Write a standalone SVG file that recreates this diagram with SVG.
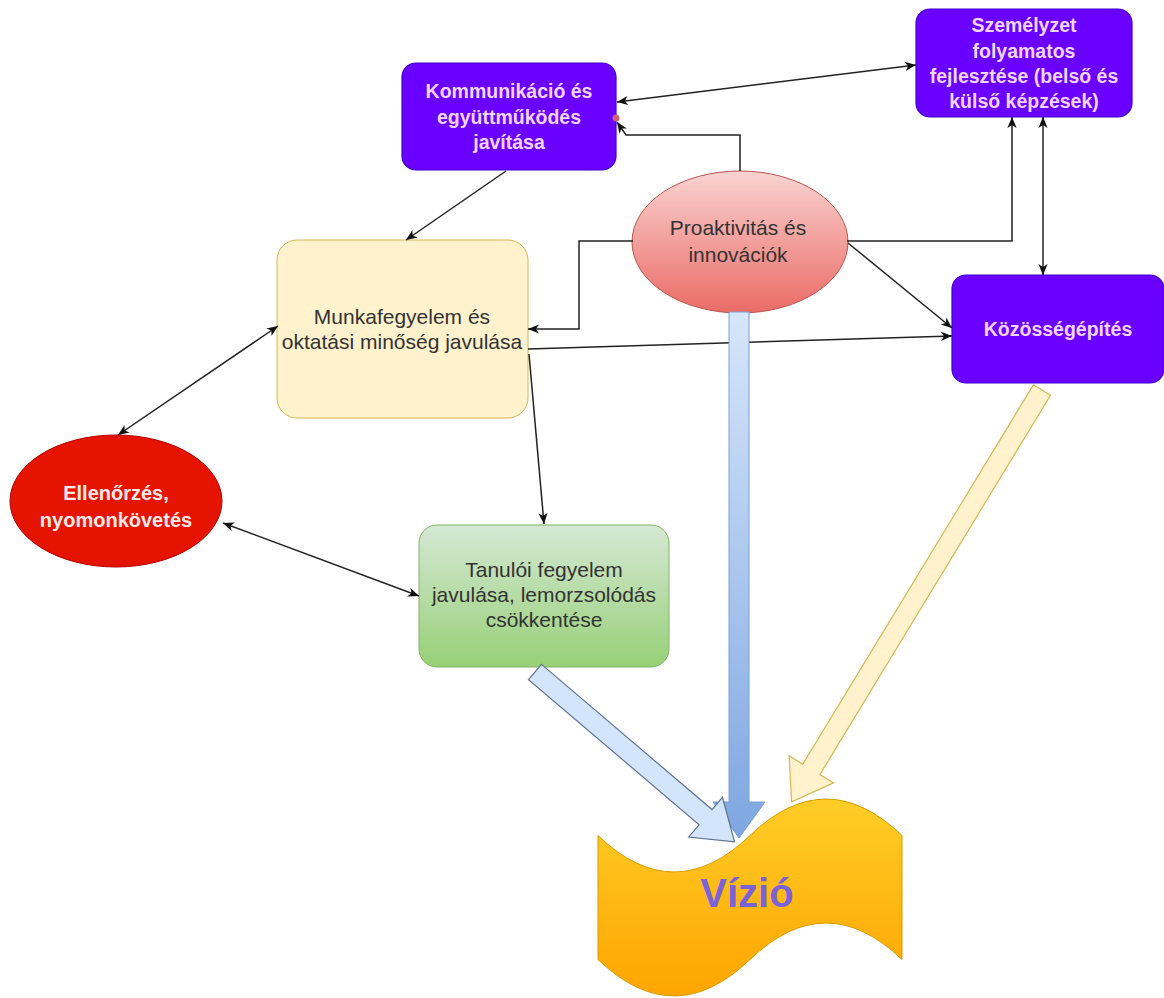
<svg xmlns="http://www.w3.org/2000/svg" width="1164" height="998" viewBox="0 0 1164 998">
<style>
.pbox{fill:#6a00ff;stroke:#3f00cc;stroke-width:1.2}
.pt{font-family:"Liberation Sans",Arial,sans-serif;font-weight:bold;font-size:19.5px;fill:#f3d6ff;text-anchor:middle}
.rt{font-family:"Liberation Sans",Arial,sans-serif;font-size:21px;fill:#333333;text-anchor:middle}
.wt{font-family:"Liberation Sans",Arial,sans-serif;font-weight:bold;font-size:20px;fill:#ffe9e9;text-anchor:middle}
.con{fill:none;stroke:#222222;stroke-width:1.5}
</style>
<defs>
<marker id="ah" viewBox="0 0 10 10" refX="10" refY="5" markerWidth="11" markerHeight="11" markerUnits="userSpaceOnUse" orient="auto-start-reverse">
<path d="M0,0.8 L10,5 L0,9.2 L2.8,5 z" fill="#111111"/>
</marker>
<linearGradient id="gPro" x1="0" y1="0" x2="0" y2="1"><stop offset="0" stop-color="#fad3d1"/><stop offset="1" stop-color="#ea6b66"/></linearGradient>
<linearGradient id="gTan" x1="0" y1="0" x2="0" y2="1"><stop offset="0" stop-color="#d5e8d4"/><stop offset="1" stop-color="#97d077"/></linearGradient>
<linearGradient id="gViz" x1="0" y1="0" x2="0" y2="1"><stop offset="0" stop-color="#ffcd28"/><stop offset="1" stop-color="#ffa500"/></linearGradient>
<linearGradient id="gArA" gradientUnits="userSpaceOnUse" x1="0" y1="312" x2="0" y2="838"><stop offset="0" stop-color="#d6e6fb"/><stop offset="1" stop-color="#7ea6e0"/></linearGradient>
</defs>

<g id="vizio">
<path d="M598,835.5 Q674,908.4 750,835.5 Q826,762.6 902,835.5 L902,959.5 Q826,886.6 750,959.5 Q674,1032.4 598,959.5 Z" fill="url(#gViz)" stroke="#d79b00" stroke-width="1"/>
<text x="747" y="907" font-family="'Liberation Sans',Arial,sans-serif" font-weight="bold" font-size="40" fill="#7b62d8" text-anchor="middle">Vízió</text>
</g>

<g id="kommunikacio">
<rect class="pbox" x="402" y="63" width="214" height="107" rx="14"/>
<text class="pt" x="509" y="98">Kommunikáció és</text>
<text class="pt" x="509" y="123.5">együttműködés</text>
<text class="pt" x="509" y="149">javítása</text>
</g>

<g id="szemelyzet">
<rect class="pbox" x="916" y="9" width="216" height="108" rx="14"/>
<text class="pt" x="1024" y="32">Személyzet</text>
<text class="pt" x="1024" y="57.5">folyamatos</text>
<text class="pt" x="1024" y="83">fejlesztése (belső és</text>
<text class="pt" x="1024" y="108">külső képzések)</text>
</g>

<g id="proaktivitas">
<ellipse cx="740" cy="242" rx="108" ry="71" fill="url(#gPro)" stroke="#b85450" stroke-width="1"/>
<text class="rt" x="738" y="235">Proaktivitás és</text>
<text class="rt" x="738" y="262">innovációk</text>
</g>

<g id="munkafegyelem">
<rect x="277" y="240" width="251" height="178" rx="20" fill="#fff2cc" stroke="#d6b656" stroke-width="1"/>
<text class="rt" x="402" y="324">Munkafegyelem és</text>
<text class="rt" x="402" y="349">oktatási minőség javulása</text>
</g>

<g id="kozossegepites">
<rect class="pbox" x="952" y="275" width="212" height="108" rx="14"/>
<text class="pt" x="1058" y="336">Közösségépítés</text>
</g>

<g id="ellenorzes">
<ellipse cx="116" cy="501" rx="106" ry="66" fill="#e51400" stroke="#b20000" stroke-width="1"/>
<text class="wt" x="116" y="500">Ellenőrzés,</text>
<text class="wt" x="116" y="527">nyomonkövetés</text>
</g>

<g id="tanuloi">
<rect x="419" y="525" width="250" height="142" rx="18" fill="url(#gTan)" stroke="#82b366" stroke-width="1"/>
<text class="rt" x="544" y="577">Tanulói fegyelem</text>
<text class="rt" x="544" y="602">javulása, lemorzsolódás</text>
<text class="rt" x="544" y="627">csökkentése</text>
</g>

<g id="connectors">
<path class="con" d="M617,102 L916,65" marker-start="url(#ah)" marker-end="url(#ah)"/>
<path class="con" d="M740,171 V135 H626 L617,122" marker-end="url(#ah)"/>
<circle cx="616" cy="118" r="3.5" fill="#d0607a"/>
<path class="con" d="M506,171 L406,240" marker-end="url(#ah)"/>
<path class="con" d="M633,241 H579 V329 H528" marker-end="url(#ah)"/>
<path class="con" d="M847,241 H1012 V117" marker-end="url(#ah)"/>
<path class="con" d="M1043,117 V275" marker-start="url(#ah)" marker-end="url(#ah)"/>
<path class="con" d="M848,243 L952,328" marker-end="url(#ah)"/>
<path class="con" d="M528,349 L952,336" marker-end="url(#ah)"/>
<path class="con" d="M278,326 L118,435" marker-start="url(#ah)" marker-end="url(#ah)"/>
<path class="con" d="M529,354 L544,524" marker-end="url(#ah)"/>
<path class="con" d="M223,523 L419,596" marker-start="url(#ah)" marker-end="url(#ah)"/>

<polygon points="729,312 749,312 749,802 765,802 739,838 713,802 729,802" fill="url(#gArA)" stroke="#7a9fd6" stroke-width="1"/>
<polygon points="0,-10 224,-10 224,-26 262,0 224,26 224,10 0,10" transform="translate(535,672) rotate(40.4)" fill="#d3e5fb" stroke="#5f7390" stroke-width="1.2"/>
<polygon points="0,-10 444,-10 444,-26 482,0 444,26 444,10 0,10" transform="translate(1042,390) rotate(121.3)" fill="#fff2cc" stroke="#d6b656" stroke-width="1.2"/>
</g>
</svg>
